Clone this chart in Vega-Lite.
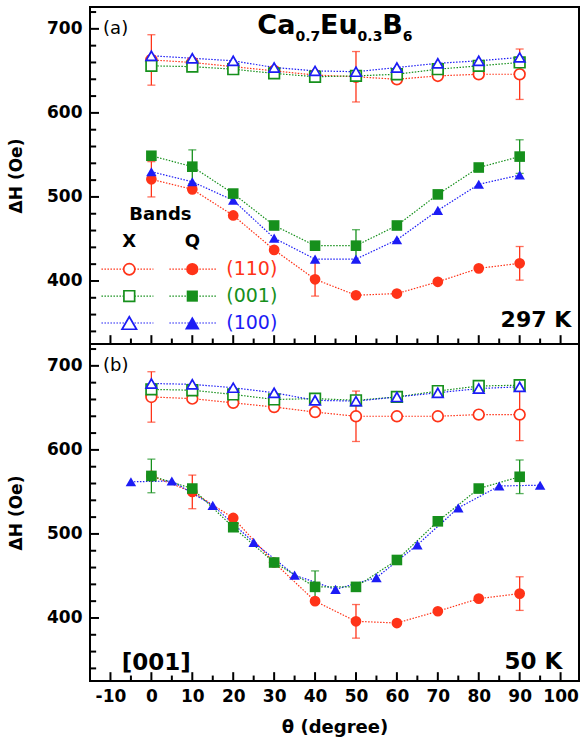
{
  "$schema": "https://vega.github.io/schema/vega-lite/v6.json",
  "padding": {"left": 6, "top": 6, "right": 0, "bottom": 0},
  "spacing": 0,
  "bounds": "flush",
  "config": {
    "view": {"stroke": "black", "strokeWidth": 2},
    "font": "DejaVu Sans",
    "axis": {"domain": false, "ticks": false, "tickSize": 0, "grid": false, "labelFont": "DejaVu Sans", "labelFontWeight": "bold", "labelFontSize": 17, "labelColor": "black", "titleFont": "DejaVu Sans", "titleFontWeight": "bold", "titleColor": "black", "labelOverlap": false, "labelFlush": false}
  },
  "datasets": {
    "pts": [
      {"p":"a","b":"X","pl":"(110)","t":0,"h":663,"e":30},{"p":"a","b":"X","pl":"(110)","t":10,"h":660},{"p":"a","b":"X","pl":"(110)","t":20,"h":655},{"p":"a","b":"X","pl":"(110)","t":30,"h":650},{"p":"a","b":"X","pl":"(110)","t":40,"h":645},{"p":"a","b":"X","pl":"(110)","t":50,"h":643,"e":30},{"p":"a","b":"X","pl":"(110)","t":60,"h":640},{"p":"a","b":"X","pl":"(110)","t":70,"h":644},{"p":"a","b":"X","pl":"(110)","t":80,"h":646},{"p":"a","b":"X","pl":"(110)","t":90,"h":646,"e":30},
      {"p":"a","b":"X","pl":"(001)","t":0,"h":656},{"p":"a","b":"X","pl":"(001)","t":10,"h":655},{"p":"a","b":"X","pl":"(001)","t":20,"h":652},{"p":"a","b":"X","pl":"(001)","t":30,"h":647},{"p":"a","b":"X","pl":"(001)","t":40,"h":643},{"p":"a","b":"X","pl":"(001)","t":50,"h":644},{"p":"a","b":"X","pl":"(001)","t":60,"h":646},{"p":"a","b":"X","pl":"(001)","t":70,"h":652},{"p":"a","b":"X","pl":"(001)","t":80,"h":656},{"p":"a","b":"X","pl":"(001)","t":90,"h":660},
      {"p":"a","b":"X","pl":"(100)","t":0,"h":668},{"p":"a","b":"X","pl":"(100)","t":10,"h":665},{"p":"a","b":"X","pl":"(100)","t":20,"h":662},{"p":"a","b":"X","pl":"(100)","t":30,"h":654},{"p":"a","b":"X","pl":"(100)","t":40,"h":650},{"p":"a","b":"X","pl":"(100)","t":50,"h":649},{"p":"a","b":"X","pl":"(100)","t":60,"h":654},{"p":"a","b":"X","pl":"(100)","t":70,"h":659},{"p":"a","b":"X","pl":"(100)","t":80,"h":662},{"p":"a","b":"X","pl":"(100)","t":90,"h":666},
      {"p":"a","b":"Q","pl":"(110)","t":0,"h":521,"e":21},{"p":"a","b":"Q","pl":"(110)","t":10,"h":509},{"p":"a","b":"Q","pl":"(110)","t":20,"h":478},{"p":"a","b":"Q","pl":"(110)","t":30,"h":437},{"p":"a","b":"Q","pl":"(110)","t":40,"h":402,"e":20},{"p":"a","b":"Q","pl":"(110)","t":50,"h":383},{"p":"a","b":"Q","pl":"(110)","t":60,"h":385},{"p":"a","b":"Q","pl":"(110)","t":70,"h":399},{"p":"a","b":"Q","pl":"(110)","t":80,"h":415},{"p":"a","b":"Q","pl":"(110)","t":90,"h":421,"e":20},
      {"p":"a","b":"Q","pl":"(100)","t":0,"h":530},{"p":"a","b":"Q","pl":"(100)","t":10,"h":518},{"p":"a","b":"Q","pl":"(100)","t":20,"h":496},{"p":"a","b":"Q","pl":"(100)","t":30,"h":451},{"p":"a","b":"Q","pl":"(100)","t":40,"h":426},{"p":"a","b":"Q","pl":"(100)","t":50,"h":426},{"p":"a","b":"Q","pl":"(100)","t":60,"h":449},{"p":"a","b":"Q","pl":"(100)","t":70,"h":484},{"p":"a","b":"Q","pl":"(100)","t":80,"h":515},{"p":"a","b":"Q","pl":"(100)","t":90,"h":526},
      {"p":"a","b":"Q","pl":"(001)","t":0,"h":549},{"p":"a","b":"Q","pl":"(001)","t":10,"h":536,"e":20},{"p":"a","b":"Q","pl":"(001)","t":20,"h":504},{"p":"a","b":"Q","pl":"(001)","t":30,"h":466},{"p":"a","b":"Q","pl":"(001)","t":40,"h":442},{"p":"a","b":"Q","pl":"(001)","t":50,"h":442,"e":19},{"p":"a","b":"Q","pl":"(001)","t":60,"h":466},{"p":"a","b":"Q","pl":"(001)","t":70,"h":503},{"p":"a","b":"Q","pl":"(001)","t":80,"h":535},{"p":"a","b":"Q","pl":"(001)","t":90,"h":548,"e":20},
      {"p":"b","b":"X","pl":"(110)","t":0,"h":663,"e":30},{"p":"b","b":"X","pl":"(110)","t":10,"h":661},{"p":"b","b":"X","pl":"(110)","t":20,"h":656},{"p":"b","b":"X","pl":"(110)","t":30,"h":651},{"p":"b","b":"X","pl":"(110)","t":40,"h":645},{"p":"b","b":"X","pl":"(110)","t":50,"h":640,"e":30},{"p":"b","b":"X","pl":"(110)","t":60,"h":640},{"p":"b","b":"X","pl":"(110)","t":70,"h":640},{"p":"b","b":"X","pl":"(110)","t":80,"h":642},{"p":"b","b":"X","pl":"(110)","t":90,"h":642,"e":31},
      {"p":"b","b":"X","pl":"(001)","t":0,"h":672},{"p":"b","b":"X","pl":"(001)","t":10,"h":671},{"p":"b","b":"X","pl":"(001)","t":20,"h":666},{"p":"b","b":"X","pl":"(001)","t":30,"h":660},{"p":"b","b":"X","pl":"(001)","t":40,"h":661},{"p":"b","b":"X","pl":"(001)","t":50,"h":659},{"p":"b","b":"X","pl":"(001)","t":60,"h":663},{"p":"b","b":"X","pl":"(001)","t":70,"h":670},{"p":"b","b":"X","pl":"(001)","t":80,"h":676},{"p":"b","b":"X","pl":"(001)","t":90,"h":677},
      {"p":"b","b":"X","pl":"(100)","t":0,"h":679},{"p":"b","b":"X","pl":"(100)","t":10,"h":678},{"p":"b","b":"X","pl":"(100)","t":20,"h":674},{"p":"b","b":"X","pl":"(100)","t":30,"h":668},{"p":"b","b":"X","pl":"(100)","t":40,"h":659},{"p":"b","b":"X","pl":"(100)","t":50,"h":658},{"p":"b","b":"X","pl":"(100)","t":60,"h":663},{"p":"b","b":"X","pl":"(100)","t":70,"h":668},{"p":"b","b":"X","pl":"(100)","t":80,"h":673},{"p":"b","b":"X","pl":"(100)","t":90,"h":675},
      {"p":"b","b":"Q","pl":"(110)","t":0,"h":569},{"p":"b","b":"Q","pl":"(110)","t":10,"h":550,"e":20},{"p":"b","b":"Q","pl":"(110)","t":20,"h":519},{"p":"b","b":"Q","pl":"(110)","t":30,"h":466},{"p":"b","b":"Q","pl":"(110)","t":40,"h":420},{"p":"b","b":"Q","pl":"(110)","t":50,"h":396,"e":20},{"p":"b","b":"Q","pl":"(110)","t":60,"h":394},{"p":"b","b":"Q","pl":"(110)","t":70,"h":408},{"p":"b","b":"Q","pl":"(110)","t":80,"h":423},{"p":"b","b":"Q","pl":"(110)","t":90,"h":429,"e":20},
      {"p":"b","b":"Q","pl":"(100)","t":-5,"h":562},{"p":"b","b":"Q","pl":"(100)","t":5,"h":563},{"p":"b","b":"Q","pl":"(100)","t":15,"h":534},{"p":"b","b":"Q","pl":"(100)","t":25,"h":490},{"p":"b","b":"Q","pl":"(100)","t":35,"h":451},{"p":"b","b":"Q","pl":"(100)","t":45,"h":434},{"p":"b","b":"Q","pl":"(100)","t":55,"h":448},{"p":"b","b":"Q","pl":"(100)","t":65,"h":487},{"p":"b","b":"Q","pl":"(100)","t":75,"h":531},{"p":"b","b":"Q","pl":"(100)","t":85,"h":557},{"p":"b","b":"Q","pl":"(100)","t":95,"h":558},
      {"p":"b","b":"Q","pl":"(001)","t":0,"h":569,"e":20},{"p":"b","b":"Q","pl":"(001)","t":10,"h":554},{"p":"b","b":"Q","pl":"(001)","t":20,"h":508},{"p":"b","b":"Q","pl":"(001)","t":30,"h":466},{"p":"b","b":"Q","pl":"(001)","t":40,"h":437,"e":19},{"p":"b","b":"Q","pl":"(001)","t":50,"h":437},{"p":"b","b":"Q","pl":"(001)","t":60,"h":469},{"p":"b","b":"Q","pl":"(001)","t":70,"h":515},{"p":"b","b":"Q","pl":"(001)","t":80,"h":554},{"p":"b","b":"Q","pl":"(001)","t":90,"h":568,"e":20}
    ]
  },
  "vconcat": [
    {
      "width": 489, "height": 337,
      "layer": [
        {
          "data": {"name": "pts"},
          "transform": [{"filter": "datum.p === 'a'"}],
          "layer": [
            {"mark": {"type": "line", "strokeDash": [1.5, 1.5], "strokeWidth": 1.2},
             "encoding": {
               "x": {"field": "t", "type": "quantitative", "scale": {"domain": [-15, 104.5], "nice": false, "zero": false},
                     "axis": {"orient": "bottom", "values": [-10,0,10,20,30,40,50,60,70,80,90,100], "labels": false, "title": null, "minExtent": 0, "maxExtent": 0}},
               "y": {"field": "h", "type": "quantitative", "scale": {"domain": [325, 726], "nice": false, "zero": false},
                     "axis": {"orient": "left", "values": [400,500,600,700], "labelPadding": 8, "title": "ΔH (Oe)", "titleFontSize": 17, "titlePadding": 20, "minExtent": 45, "maxExtent": 45}},
               "color": {"field": "pl", "type": "nominal", "scale": {"domain": ["(110)","(001)","(100)"], "range": ["#ff3318","#16901c","#1c1cf5"]}, "legend": null},
               "detail": {"field": "b"}}},
            {"transform": [{"filter": "isValid(datum.e)"}],
             "mark": {"type": "errorbar", "ticks": {"size": 8}, "thickness": 1.3},
             "encoding": {"x": {"field": "t", "type": "quantitative", "title": null}, "y": {"field": "h", "type": "quantitative", "title": "ΔH (Oe)"},
                          "yError": {"field": "e"}, "color": {"field": "pl", "type": "nominal", "legend": null}}},
            {"transform": [{"filter": "datum.b === 'X'"}],
             "mark": {"type": "point", "filled": false, "fill": "white", "strokeWidth": 1.7, "opacity": 1},
             "encoding": {"x": {"field": "t", "type": "quantitative", "title": null}, "y": {"field": "h", "type": "quantitative", "title": "ΔH (Oe)"},
                          "color": {"field": "pl", "type": "nominal", "legend": null},
                          "shape": {"field": "pl", "type": "nominal", "scale": {"domain": ["(110)","(001)","(100)"], "range": ["circle","square","triangle-up"]}, "legend": null},
                          "size": {"field": "pl", "type": "nominal", "scale": {"domain": ["(110)","(001)","(100)"], "range": [115, 110, 200]}, "legend": null}}},
            {"transform": [{"filter": "datum.b === 'Q'"}],
             "mark": {"type": "point", "filled": true, "opacity": 1},
             "encoding": {"x": {"field": "t", "type": "quantitative", "title": null}, "y": {"field": "h", "type": "quantitative", "title": "ΔH (Oe)"},
                          "color": {"field": "pl", "type": "nominal", "legend": null},
                          "shape": {"field": "pl", "type": "nominal", "legend": null},
                          "size": {"field": "pl", "type": "nominal", "legend": null}}}
          ]
        },
        {"data": {"values": [{"v":400},{"v":500},{"v":600},{"v":700}]}, "mark": {"type": "rule", "color": "black", "strokeWidth": 2},
         "encoding": {"x": {"datum": -15}, "x2": {"datum": -12.8}, "y": {"field": "v", "type": "quantitative", "title": "ΔH (Oe)"}}},
        {"data": {"values": [{"v":340},{"v":360},{"v":380},{"v":420},{"v":440},{"v":460},{"v":480},{"v":520},{"v":540},{"v":560},{"v":580},{"v":620},{"v":640},{"v":660},{"v":680},{"v":720}]}, "mark": {"type": "rule", "color": "black", "strokeWidth": 2},
         "encoding": {"x": {"datum": -15}, "x2": {"datum": -13.5}, "y": {"field": "v", "type": "quantitative", "title": "ΔH (Oe)"}}},
        {"data": {"values": [{"v":-10},{"v":0},{"v":10},{"v":20},{"v":30},{"v":40},{"v":50},{"v":60},{"v":70},{"v":80},{"v":90},{"v":100}]}, "mark": {"type": "rule", "color": "black", "strokeWidth": 2},
         "encoding": {"x": {"field": "v", "type": "quantitative", "title": null}, "y": {"datum": 325}, "y2": {"datum": 335.5}}},
        {"data": {"values": [{"v":-5},{"v":5},{"v":15},{"v":25},{"v":35},{"v":45},{"v":55},{"v":65},{"v":75},{"v":85},{"v":95}]}, "mark": {"type": "rule", "color": "black", "strokeWidth": 2},
         "encoding": {"x": {"field": "v", "type": "quantitative", "title": null}, "y": {"datum": 325}, "y2": {"datum": 331.5}}},
        {"data": {"values": [{"p": "a"}]}, "mark": {"type": "text", "text": "(a)", "align": "left", "baseline": "middle", "font": "DejaVu Sans", "fontSize": 18, "color": "black"},
         "encoding": {"x": {"datum": -11.8}, "y": {"datum": 700}}},
        {"data": {"values": [{"p": "a"}]}, "mark": {"type": "text", "text": "Ca", "align": "left", "baseline": "alphabetic", "font": "DejaVu Sans", "fontWeight": "bold", "fontSize": 27, "color": "black"},
         "encoding": {"x": {"datum": 25.9}, "y": {"datum": 694}}},
        {"data": {"values": [{"p": "a"}]}, "mark": {"type": "text", "text": "0.7", "align": "left", "baseline": "alphabetic", "font": "DejaVu Sans", "fontWeight": "bold", "fontSize": 14, "color": "black"},
         "encoding": {"x": {"datum": 35.2}, "y": {"datum": 685}}},
        {"data": {"values": [{"p": "a"}]}, "mark": {"type": "text", "text": "Eu", "align": "left", "baseline": "alphabetic", "font": "DejaVu Sans", "fontWeight": "bold", "fontSize": 27, "color": "black"},
         "encoding": {"x": {"datum": 41.2}, "y": {"datum": 694}}},
        {"data": {"values": [{"p": "a"}]}, "mark": {"type": "text", "text": "0.3", "align": "left", "baseline": "alphabetic", "font": "DejaVu Sans", "fontWeight": "bold", "fontSize": 14, "color": "black"},
         "encoding": {"x": {"datum": 50.4}, "y": {"datum": 685}}},
        {"data": {"values": [{"p": "a"}]}, "mark": {"type": "text", "text": "B", "align": "left", "baseline": "alphabetic", "font": "DejaVu Sans", "fontWeight": "bold", "fontSize": 27, "color": "black"},
         "encoding": {"x": {"datum": 56.4}, "y": {"datum": 694}}},
        {"data": {"values": [{"p": "a"}]}, "mark": {"type": "text", "text": "6", "align": "left", "baseline": "alphabetic", "font": "DejaVu Sans", "fontWeight": "bold", "fontSize": 14, "color": "black"},
         "encoding": {"x": {"datum": 61.4}, "y": {"datum": 685}}},
        {"data": {"values": [{"p": "a"}]}, "mark": {"type": "text", "text": "297 K", "align": "right", "baseline": "alphabetic", "font": "DejaVu Sans", "fontWeight": "bold", "fontSize": 22, "color": "black"},
         "encoding": {"x": {"datum": 102.6}, "y": {"datum": 345}}},
        {"data": {"values": [{"p": "a"}]}, "mark": {"type": "text", "text": "Bands", "align": "center", "baseline": "alphabetic", "font": "DejaVu Sans", "fontWeight": "bold", "fontSize": 18, "color": "black"},
         "encoding": {"x": {"datum": 2.2}, "y": {"datum": 472}}},
        {"data": {"values": [{"p": "a"}]}, "mark": {"type": "text", "text": "X", "align": "center", "baseline": "alphabetic", "font": "DejaVu Sans", "fontWeight": "bold", "fontSize": 18, "color": "black"},
         "encoding": {"x": {"datum": -5.4}, "y": {"datum": 440}}},
        {"data": {"values": [{"p": "a"}]}, "mark": {"type": "text", "text": "Q", "align": "center", "baseline": "alphabetic", "font": "DejaVu Sans", "fontWeight": "bold", "fontSize": 18, "color": "black"},
         "encoding": {"x": {"datum": 10}, "y": {"datum": 440}}},
        {"data": {"values": [{"p": "a"}]}, "mark": {"type": "rule", "color": "#ff3318", "strokeDash": [1.5, 1.5], "strokeWidth": 1.2}, "encoding": {"x": {"datum": -12.2}, "x2": {"datum": 0.5}, "y": {"datum": 414}}},
        {"data": {"values": [{"p": "a"}]}, "mark": {"type": "rule", "color": "#ff3318", "strokeDash": [1.5, 1.5], "strokeWidth": 1.2}, "encoding": {"x": {"datum": 4.4}, "x2": {"datum": 16}, "y": {"datum": 414}}},
        {"data": {"values": [{"p": "a"}]}, "mark": {"type": "rule", "color": "#16901c", "strokeDash": [1.5, 1.5], "strokeWidth": 1.2}, "encoding": {"x": {"datum": -12.2}, "x2": {"datum": 0.5}, "y": {"datum": 382}}},
        {"data": {"values": [{"p": "a"}]}, "mark": {"type": "rule", "color": "#16901c", "strokeDash": [1.5, 1.5], "strokeWidth": 1.2}, "encoding": {"x": {"datum": 4.4}, "x2": {"datum": 16}, "y": {"datum": 382}}},
        {"data": {"values": [{"p": "a"}]}, "mark": {"type": "rule", "color": "#1c1cf5", "strokeDash": [1.5, 1.5], "strokeWidth": 1.2}, "encoding": {"x": {"datum": -12.2}, "x2": {"datum": 0.5}, "y": {"datum": 350}}},
        {"data": {"values": [{"p": "a"}]}, "mark": {"type": "rule", "color": "#1c1cf5", "strokeDash": [1.5, 1.5], "strokeWidth": 1.2}, "encoding": {"x": {"datum": 4.4}, "x2": {"datum": 16}, "y": {"datum": 350}}},
        {"data": {"values": [{"p": "a"}]}, "mark": {"type": "point", "shape": "circle", "size": 125, "filled": false, "fill": "white", "strokeWidth": 1.7, "opacity": 1, "color": "#ff3318"}, "encoding": {"x": {"datum": -5.4}, "y": {"datum": 414}}},
        {"data": {"values": [{"p": "a"}]}, "mark": {"type": "point", "shape": "circle", "size": 150, "filled": true, "opacity": 1, "color": "#ff3318"}, "encoding": {"x": {"datum": 10}, "y": {"datum": 414}}},
        {"data": {"values": [{"p": "a"}]}, "mark": {"type": "point", "shape": "square", "size": 115, "filled": false, "fill": "white", "strokeWidth": 1.7, "opacity": 1, "color": "#16901c"}, "encoding": {"x": {"datum": -5.4}, "y": {"datum": 382}}},
        {"data": {"values": [{"p": "a"}]}, "mark": {"type": "point", "shape": "square", "size": 125, "filled": true, "opacity": 1, "color": "#16901c"}, "encoding": {"x": {"datum": 10}, "y": {"datum": 382}}},
        {"data": {"values": [{"p": "a"}]}, "mark": {"type": "point", "shape": "triangle-up", "size": 210, "filled": false, "fill": "white", "strokeWidth": 1.7, "opacity": 1, "color": "#1c1cf5"}, "encoding": {"x": {"datum": -5.4}, "y": {"datum": 350}}},
        {"data": {"values": [{"p": "a"}]}, "mark": {"type": "point", "shape": "triangle-up", "size": 220, "filled": true, "opacity": 1, "color": "#1c1cf5"}, "encoding": {"x": {"datum": 10}, "y": {"datum": 350}}},
        {"data": {"values": [{"p": "a"}]}, "mark": {"type": "text", "text": "(110)", "align": "left", "baseline": "middle", "font": "DejaVu Sans", "fontSize": 19, "color": "#ff3318"}, "encoding": {"x": {"datum": 18.3}, "y": {"datum": 414}}},
        {"data": {"values": [{"p": "a"}]}, "mark": {"type": "text", "text": "(001)", "align": "left", "baseline": "middle", "font": "DejaVu Sans", "fontSize": 19, "color": "#16901c"}, "encoding": {"x": {"datum": 18.3}, "y": {"datum": 382}}},
        {"data": {"values": [{"p": "a"}]}, "mark": {"type": "text", "text": "(100)", "align": "left", "baseline": "middle", "font": "DejaVu Sans", "fontSize": 19, "color": "#1c1cf5"}, "encoding": {"x": {"datum": 18.3}, "y": {"datum": 350}}}
      ]
    },
    {
      "width": 489, "height": 337,
      "layer": [
        {
          "data": {"name": "pts"},
          "transform": [{"filter": "datum.p === 'b'"}],
          "layer": [
            {"mark": {"type": "line", "strokeDash": [1.5, 1.5], "strokeWidth": 1.2},
             "encoding": {
               "x": {"field": "t", "type": "quantitative", "scale": {"domain": [-15, 104.5], "nice": false, "zero": false},
                     "axis": {"orient": "bottom", "values": [-10,0,10,20,30,40,50,60,70,80,90,100], "labelExpr": "replace(datum.label, '−', '-')", "labelPadding": 7, "title": "θ (degree)", "titleFontSize": 18, "titlePadding": 14}},
               "y": {"field": "h", "type": "quantitative", "scale": {"domain": [325, 726], "nice": false, "zero": false},
                     "axis": {"orient": "left", "values": [400,500,600,700], "labelPadding": 8, "title": "ΔH (Oe)", "titleFontSize": 17, "titlePadding": 20, "minExtent": 45, "maxExtent": 45}},
               "color": {"field": "pl", "type": "nominal", "scale": {"domain": ["(110)","(001)","(100)"], "range": ["#ff3318","#16901c","#1c1cf5"]}, "legend": null},
               "detail": {"field": "b"}}},
            {"transform": [{"filter": "isValid(datum.e)"}],
             "mark": {"type": "errorbar", "ticks": {"size": 8}, "thickness": 1.3},
             "encoding": {"x": {"field": "t", "type": "quantitative", "title": "θ (degree)"}, "y": {"field": "h", "type": "quantitative", "title": "ΔH (Oe)"},
                          "yError": {"field": "e"}, "color": {"field": "pl", "type": "nominal", "legend": null}}},
            {"transform": [{"filter": "datum.b === 'X'"}],
             "mark": {"type": "point", "filled": false, "fill": "white", "strokeWidth": 1.7, "opacity": 1},
             "encoding": {"x": {"field": "t", "type": "quantitative", "title": "θ (degree)"}, "y": {"field": "h", "type": "quantitative", "title": "ΔH (Oe)"},
                          "color": {"field": "pl", "type": "nominal", "legend": null},
                          "shape": {"field": "pl", "type": "nominal", "scale": {"domain": ["(110)","(001)","(100)"], "range": ["circle","square","triangle-up"]}, "legend": null},
                          "size": {"field": "pl", "type": "nominal", "scale": {"domain": ["(110)","(001)","(100)"], "range": [115, 110, 200]}, "legend": null}}},
            {"transform": [{"filter": "datum.b === 'Q'"}],
             "mark": {"type": "point", "filled": true, "opacity": 1},
             "encoding": {"x": {"field": "t", "type": "quantitative", "title": "θ (degree)"}, "y": {"field": "h", "type": "quantitative", "title": "ΔH (Oe)"},
                          "color": {"field": "pl", "type": "nominal", "legend": null},
                          "shape": {"field": "pl", "type": "nominal", "legend": null},
                          "size": {"field": "pl", "type": "nominal", "legend": null}}}
          ]
        },
        {"data": {"values": [{"v":400},{"v":500},{"v":600},{"v":700}]}, "mark": {"type": "rule", "color": "black", "strokeWidth": 2},
         "encoding": {"x": {"datum": -15}, "x2": {"datum": -12.8}, "y": {"field": "v", "type": "quantitative", "title": "ΔH (Oe)"}}},
        {"data": {"values": [{"v":340},{"v":360},{"v":380},{"v":420},{"v":440},{"v":460},{"v":480},{"v":520},{"v":540},{"v":560},{"v":580},{"v":620},{"v":640},{"v":660},{"v":680},{"v":720}]}, "mark": {"type": "rule", "color": "black", "strokeWidth": 2},
         "encoding": {"x": {"datum": -15}, "x2": {"datum": -13.5}, "y": {"field": "v", "type": "quantitative", "title": "ΔH (Oe)"}}},
        {"data": {"values": [{"v":-10},{"v":0},{"v":10},{"v":20},{"v":30},{"v":40},{"v":50},{"v":60},{"v":70},{"v":80},{"v":90},{"v":100}]}, "mark": {"type": "rule", "color": "black", "strokeWidth": 2},
         "encoding": {"x": {"field": "v", "type": "quantitative", "title": "θ (degree)"}, "y": {"datum": 325}, "y2": {"datum": 335.5}}},
        {"data": {"values": [{"v":-5},{"v":5},{"v":15},{"v":25},{"v":35},{"v":45},{"v":55},{"v":65},{"v":75},{"v":85},{"v":95}]}, "mark": {"type": "rule", "color": "black", "strokeWidth": 2},
         "encoding": {"x": {"field": "v", "type": "quantitative", "title": "θ (degree)"}, "y": {"datum": 325}, "y2": {"datum": 331.5}}},
        {"data": {"values": [{"p": "b"}]}, "mark": {"type": "text", "text": "(b)", "align": "left", "baseline": "middle", "font": "DejaVu Sans", "fontSize": 18, "color": "black"},
         "encoding": {"x": {"datum": -11.8}, "y": {"datum": 700}}},
        {"data": {"values": [{"p": "b"}]}, "mark": {"type": "text", "text": "[001]", "align": "center", "baseline": "alphabetic", "font": "DejaVu Sans", "fontWeight": "bold", "fontSize": 23, "color": "black"},
         "encoding": {"x": {"datum": 1.2}, "y": {"datum": 338}}},
        {"data": {"values": [{"p": "b"}]}, "mark": {"type": "text", "text": "50 K", "align": "right", "baseline": "alphabetic", "font": "DejaVu Sans", "fontWeight": "bold", "fontSize": 23, "color": "black"},
         "encoding": {"x": {"datum": 100.4}, "y": {"datum": 339}}}
      ]
    }
  ]
}
